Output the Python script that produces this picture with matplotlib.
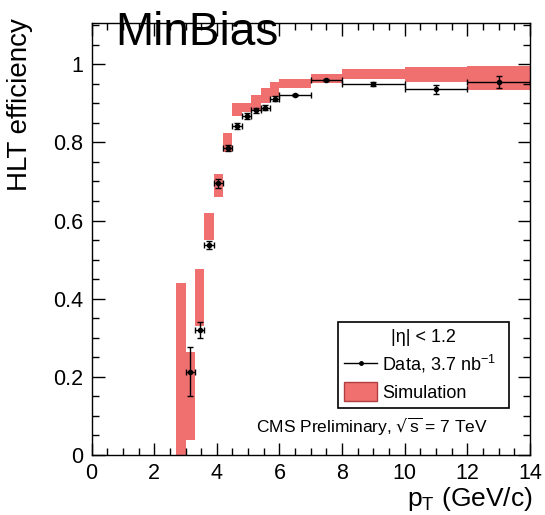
import numpy as np
import matplotlib
matplotlib.use('Agg')
import matplotlib.pyplot as plt
from matplotlib.ticker import MultipleLocator, FuncFormatter
from matplotlib.lines import Line2D
from matplotlib.patches import Patch

plt.rcParams['font.family'] = ['Liberation Sans', 'DejaVu Sans']

######  simulation band (bin edges, lower / upper efficiency)  ######
sim_lo_edge = [2.7, 3.0, 3.3, 3.6, 3.9, 4.2, 4.5, 4.8, 5.1, 5.4, 5.7, 6.0, 7.0, 8.0, 10.0, 12.0]
sim_hi_edge = [3.0, 3.3, 3.6, 3.9, 4.2, 4.5, 4.8, 5.1, 5.4, 5.7, 6.0, 7.0, 8.0, 10.0, 12.0, 14.0]
sim_lo = [0.0, 0.038, 0.33, 0.55, 0.659, 0.776, 0.867, 0.878, 0.884, 0.901, 0.915, 0.938, 0.951, 0.963, 0.955, 0.935]
sim_hi = [0.44, 0.264, 0.476, 0.62, 0.720, 0.823, 0.902, 0.902, 0.922, 0.938, 0.955, 0.961, 0.974, 0.987, 0.993, 0.996]

######  data points  ######
pt = [3.15, 3.45, 3.75, 4.05, 4.35, 4.65, 4.95, 5.25, 5.55, 5.85, 6.5, 7.5, 9.0, 11.0, 13.0]
pt_err = [0.15, 0.15, 0.15, 0.15, 0.15, 0.15, 0.15, 0.15, 0.15, 0.15, 0.5, 0.5, 1.0, 1.0, 1.0]
eff = [0.213, 0.320, 0.537, 0.695, 0.785, 0.842, 0.868, 0.882, 0.889, 0.912, 0.922, 0.959, 0.950, 0.936, 0.955]
eff_err = [0.063, 0.02, 0.01, 0.012, 0.008, 0.007, 0.007, 0.007, 0.007, 0.007, 0.003, 0.003, 0.005, 0.012, 0.016]

pink = '#F07070'

fig = plt.figure(figsize=(5.45, 5.15), dpi=100)
ax = fig.add_axes([0.168, 0.1165, 0.8045, 0.8385])

lo = np.array(sim_lo_edge)
hi = np.array(sim_hi_edge)
ax.bar(lo, np.array(sim_hi) - np.array(sim_lo), width=hi - lo, bottom=sim_lo,
       align='edge', color=pink, linewidth=0, zorder=1)

ax.errorbar(pt, eff, xerr=pt_err, yerr=eff_err, fmt='o', color='k', ms=3,
            elinewidth=1, capsize=2.5, capthick=1, zorder=3)

ax.set_xlim(0, 14)
ax.set_ylim(0, 1.105)

ax.xaxis.set_major_locator(MultipleLocator(2))
ax.xaxis.set_minor_locator(MultipleLocator(0.5))
ax.yaxis.set_major_locator(MultipleLocator(0.2))
ax.yaxis.set_minor_locator(MultipleLocator(0.05))
ax.yaxis.set_major_formatter(FuncFormatter(lambda v, p: '%g' % round(v, 2)))
ax.xaxis.set_major_formatter(FuncFormatter(lambda v, p: '%g' % v))

ax.tick_params(which='both', direction='in', top=True, right=True, width=1)
ax.tick_params(which='major', length=9, labelsize=15.5, pad=6)
ax.tick_params(which='minor', length=5)
for s in ax.spines.values():
    s.set_linewidth(1)

ax.set_xlabel('p$_\\mathregular{T}$ (GeV/c)', fontsize=19, loc='right')
ax.xaxis.set_label_coords(1.007, -0.07)
# y label placed on the figure so it sits up against the top like the original
fig.text(20 / 545., 1 - 18 / 515., 'HLT efficiency', fontsize=20, rotation=90,
         ha='center', va='top')

handles = [Line2D([0], [0], color='k', lw=1, marker='o', ms=2.5),
           Patch(facecolor=pink, edgecolor='#B04040', linewidth=1)]
leg = ax.legend(handles, ['Data, 3.7 nb$^{\\mathregular{-1}}$', 'Simulation'],
                title='|\u03b7| < 1.2', title_fontsize=13, fontsize=13,
                loc='lower left', bbox_to_anchor=(0.562, 0.109, 0.39, 0.217),
                mode='expand', fancybox=False, edgecolor='k', framealpha=1,
                handlelength=1.8, handleheight=1.2, handletextpad=0.3,
                borderpad=0.35, borderaxespad=0, labelspacing=0.4)
leg.get_frame().set_linewidth(1.2)

ax.text(0.905, 0.065, 'CMS Preliminary, $\\mathregular{\\sqrt{s}}$ = 7 TeV', transform=ax.transAxes,
        ha='right', va='center', fontsize=12.5)

fig.text(115 / 545., 1 - 45 / 515., 'MinBias', fontsize=33, ha='left', va='baseline')

plt.savefig('out.png', dpi=100)
